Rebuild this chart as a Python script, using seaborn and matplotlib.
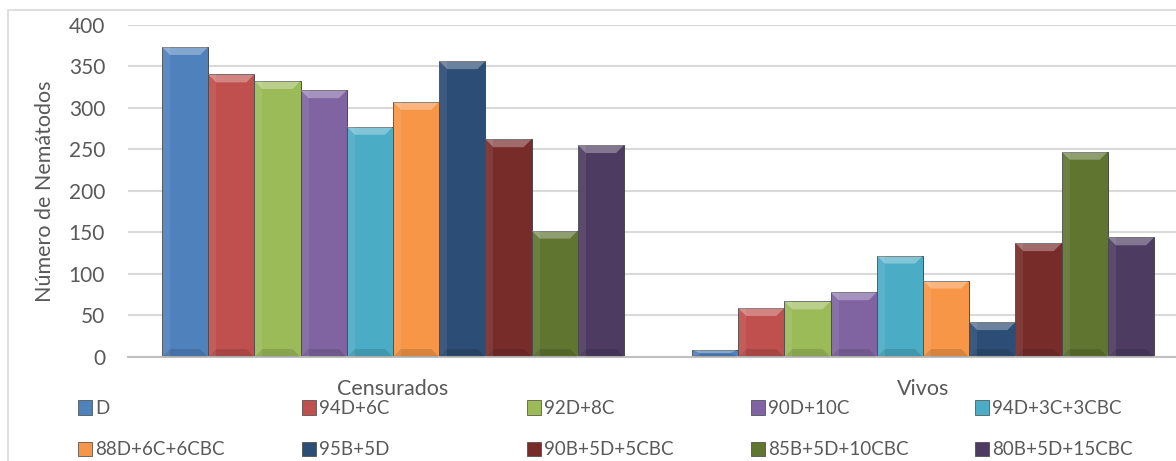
import pandas as pd
import seaborn as sns
import matplotlib.pyplot as plt
from matplotlib.patches import Patch, Rectangle, Polygon

# categories and series
grupos = ["Censurados", "Vivos"]
tratamientos = ["D", "94D+6C", "92D+8C", "90D+10C", "94D+3C+3CBC",
                "88D+6C+6CBC", "95B+5D", "90B+5D+5CBC", "85B+5D+10CBC", "80B+5D+15CBC"]
censurados = [373, 340, 332, 321, 277, 307, 356, 262, 152, 255]
vivos = [9, 59, 67, 78, 122, 92, 42, 137, 247, 144]
colores = ["#4F81BD", "#C0504D", "#9BBB59", "#8064A2", "#4BACC6",
           "#F79646", "#2C4D75", "#772C2A", "#5F7530", "#4D3B62"]

df = pd.DataFrame({
    "grupo": ["Censurados"] * len(tratamientos) + ["Vivos"] * len(tratamientos),
    "tratamiento": tratamientos * 2,
    "valor": censurados + vivos,
})

sns.set_style("white")
plt.rcParams["font.family"] = ["Lato", "DejaVu Sans"]
txt = "#595959"

fig = plt.figure(figsize=(11.76, 4.61), dpi=100)
# chart border (cropped on the right like the original)
fig.patches.append(Rectangle((8 / 1176, -0.1), 1.2, (451 / 461) + 0.1, transform=fig.transFigure,
                             fill=False, edgecolor="#d9d9d9", linewidth=1.2))
ax = fig.add_axes([128 / 1176, 104 / 461, 1060 / 1176, 332.5 / 461])

sns.barplot(data=df, x="grupo", y="valor", hue="tratamiento", hue_order=tratamientos,
            palette=colores, width=0.872, gap=0, ax=ax, legend=False,
            edgecolor="#3a3a3a", linewidth=0.6, saturation=1)

ax.set_ylim(0, 400)
ax.set_xlim(-0.5, 1.5)

# bevel look: lighter top, darker bottom
px_x = 2 / 1060      # data units per pixel (x)
px_y = 400 / 332.5   # data units per pixel (y)
for p in list(ax.patches):
    x, w, h = p.get_x(), p.get_width(), p.get_height()
    if h <= 0:
        continue
    bh = min(8 * px_y, h * 0.5)
    ins = min(8 * px_x, w * 0.3)
    ax.add_patch(Polygon([(x, h), (x + w, h), (x + w - ins, h - bh), (x + ins, h - bh)],
                         closed=True, facecolor="white", alpha=0.3, linewidth=0, zorder=3))
    ax.add_patch(Polygon([(x, 0), (x + w, 0), (x + w - ins, bh), (x + ins, bh)],
                         closed=True, facecolor="black", alpha=0.12, linewidth=0, zorder=3))
    ax.add_patch(Rectangle((x, 0), ins, h, facecolor="white", alpha=0.08, linewidth=0, zorder=3))

ax.set_yticks(range(0, 401, 50))
ax.yaxis.grid(True, color="#d9d9d9", linewidth=1.5)
ax.set_axisbelow(True)
for s in ["top", "right", "left"]:
    ax.spines[s].set_visible(False)
ax.spines["bottom"].set_color("#c0c0c0")
ax.spines["bottom"].set_linewidth(1.5)
ax.tick_params(axis="y", length=0, pad=16.5, labelsize=15, labelcolor=txt)
ax.tick_params(axis="x", length=0, pad=16, labelsize=15.5, labelcolor=txt)
ax.set_xlabel("")
ax.set_ylabel("Número de Nemátodos", fontsize=15.5, color=txt)
ax.yaxis.set_label_coords(-73 / 1060, 0.5)

# legend: 5 columns x 2 rows
col_x = [78, 302, 527, 751, 975]
for c in range(5):
    idx = [c, c + 5]
    handles = [Patch(facecolor=colores[i], edgecolor="#404040", linewidth=0.5) for i in idx]
    fig.legend(handles, [tratamientos[i] for i in idx], loc="upper left",
               bbox_to_anchor=(col_x[c] / 1176, 61 / 461), frameon=False,
               borderpad=0, borderaxespad=0, handlelength=0.75, handleheight=0.8,
               handletextpad=0.15, labelspacing=1.29, fontsize=13.5, labelcolor=txt)

fig.savefig("out.png", dpi=100)
